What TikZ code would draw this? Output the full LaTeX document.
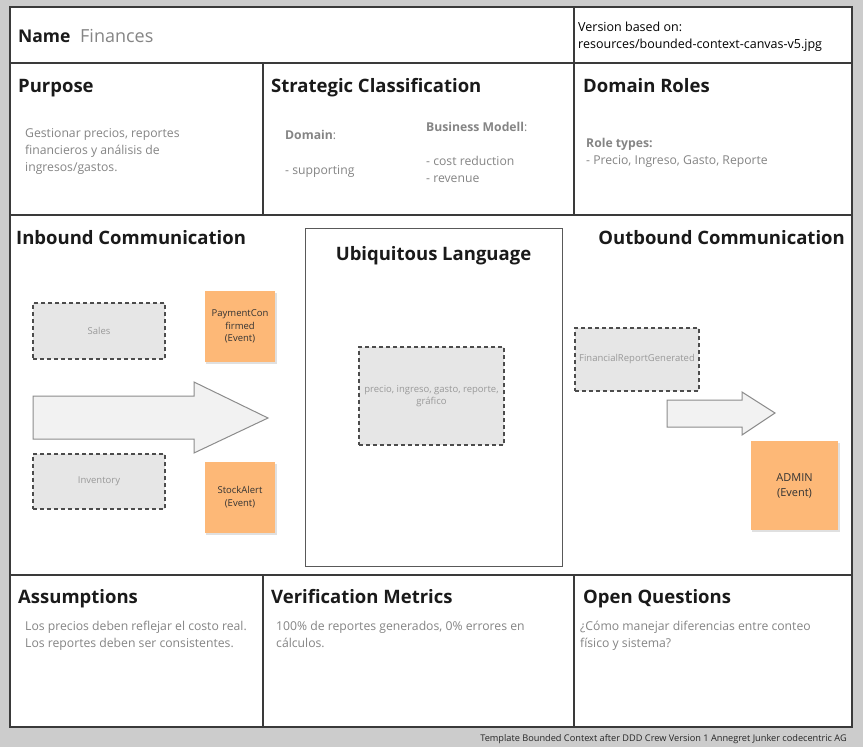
\documentclass[tikz,border=0pt]{standalone}
\usepackage{fontspec}
\setmainfont{Open Sans}
\definecolor{bg}{HTML}{CCCCCC}
\definecolor{frame}{HTML}{3A3A3A}
\definecolor{head}{HTML}{1A1A1A}
\definecolor{body}{HTML}{858585}
\definecolor{sticky}{HTML}{FDB877}
\definecolor{dashfill}{HTML}{E6E6E6}
\definecolor{arrowfill}{HTML}{F2F2F2}
\tikzset{
  cell/.style={draw=frame, line width=2pt, fill=white},
  heading/.style={anchor=base west, inner sep=0pt, text=head, font=\fontsize{18.5}{22}\selectfont\bfseries},
  bodytext/.style={anchor=base west, inner sep=0pt, text=body, font=\fontsize{12.2}{17}\selectfont, align=left},
  boldbody/.style={bodytext, font=\fontsize{12.2}{17}\selectfont\bfseries},
  dashbox/.style={draw=black!70, dashed, dash pattern=on 4pt off 3pt, line width=1.2pt, fill=dashfill, text=black!40, font=\fontsize{9.5}{12}\selectfont, align=center, inner sep=0pt},
  stickynote/.style={fill=sticky, text=black!80, font=\fontsize{9.5}{12.5}\selectfont, align=center, inner sep=0pt},
  bigarrow/.style={draw=black!45, line width=1pt, fill=arrowfill},
}
\begin{document}
\begin{tikzpicture}[x=1pt,y=-1pt]
\fill[bg] (0,0) rectangle (863,747);
\useasboundingbox (0,0) rectangle (863,747);
% cells
\draw[cell] (10,7) rectangle (574,63);
\draw[cell] (574,7) rectangle (852,63);
\draw[cell] (10,63) rectangle (263,215);
\draw[cell] (263,63) rectangle (574,215);
\draw[cell] (574,63) rectangle (852,215);
\draw[cell] (10,215) rectangle (852,575);
\draw[cell] (10,575) rectangle (263,727);
\draw[cell] (263,575) rectangle (574,727);
\draw[cell] (574,575) rectangle (852,727);
% top row
\node[heading, font=\fontsize{17.5}{20}\selectfont\bfseries] (name) at (18,42) {Name};
\node[bodytext, font=\fontsize{18}{20}\selectfont] (finances) at (80,42) {Finances};
\node[bodytext, text=black, font=\fontsize{12.5}{17}\selectfont] (version) at (578,48) {Version based on:\\resources/bounded-context-canvas-v5.jpg};
% second row
\node[heading] (purpose) at (18,92) {Purpose};
\node[bodytext] (purposetxt) at (25,171) {Gestionar precios, reportes\\financieros y análisis de\\ingresos/gastos.};
\node[heading] (strategic) at (271,92) {Strategic Classification};
\node[boldbody] (domain) at (285,139) {Domain\textmd{:}};
\node[bodytext] (supporting) at (285,174) {- supporting};
\node[boldbody] (business) at (426,131) {Business Modell\textmd{:}};
\node[bodytext] (bmvals) at (426,182) {- cost reduction\\- revenue};
\node[heading] (roles) at (583,92) {Domain Roles};
\node[boldbody] (roletypes) at (586,147) {Role types:};
\node[bodytext] (rolevals) at (586,164) {- Precio, Ingreso, Gasto, Reporte};
% middle row
\node[heading] (inbound) at (16,244) {Inbound Communication};
\node[heading, anchor=base east] (outbound) at (845,244) {Outbound Communication};
\draw[draw=black!65, line width=1pt] (305,228) rectangle (562,566);
\node[heading, anchor=base] (ubiq) at (433.5,260) {Ubiquitous Language};
\node[dashbox, minimum width=145pt, minimum height=98pt] (terms) at (431.5,396) {precio, ingreso, gasto, reporte,\\gráfico};
% inbound
\node[dashbox, minimum width=132pt, minimum height=56pt] (sales) at (99,331) {Sales};
\node[dashbox, minimum width=132pt, minimum height=55pt] (inventory) at (99,481.5) {Inventory};
\fill[black!12] (206,293) rectangle (277,364);
\node[stickynote, minimum width=70pt, minimum height=71pt] (payment) at (240,326.5) {PaymentCon\\firmed\\(Event)};
\fill[black!12] (206,464) rectangle (277,535);
\node[stickynote, minimum width=70pt, minimum height=71pt] (stock) at (240,497) {StockAlert\\(Event)};
\draw[bigarrow] (33,396) -- (194,396) -- (194,382) -- (268,418) -- (194,453) -- (194,439) -- (33,439) -- cycle;
% outbound
\node[dashbox, minimum width=124pt, minimum height=63pt] (report) at (637,359.5) {FinancialReportGenerated};
\draw[bigarrow] (667,400) -- (742,400) -- (742,392) -- (775,413) -- (742,435) -- (742,427) -- (667,427) -- cycle;
\fill[black!12] (752,443) rectangle (840,532);
\node[stickynote, minimum width=87pt, minimum height=89pt, font=\fontsize{11}{15}\selectfont] (admin) at (794.5,485.5) {ADMIN\\(Event)};
% bottom row
\node[heading] (assump) at (18,603) {Assumptions};
\node[bodytext] (assumptxt) at (25,647) {Los precios deben reflejar el costo real.\\Los reportes deben ser consistentes.};
\node[heading] (verif) at (271,603) {Verification Metrics};
\node[bodytext] (veriftxt) at (276,647) {100\% de reportes generados, 0\% errores en\\cálculos.};
\node[heading] (openq) at (583,603) {Open Questions};
\node[bodytext] (openqtxt) at (580,647) {¿Cómo manejar diferencias entre conteo\\físico y sistema?};
% footer
\node[anchor=base east, inner sep=0pt, text=black!85, font=\fontsize{9.2}{11}\selectfont] (footer) at (847,741) {Template Bounded Context after DDD Crew Version 1 Annegret Junker codecentric AG};
\end{tikzpicture}
\end{document}
